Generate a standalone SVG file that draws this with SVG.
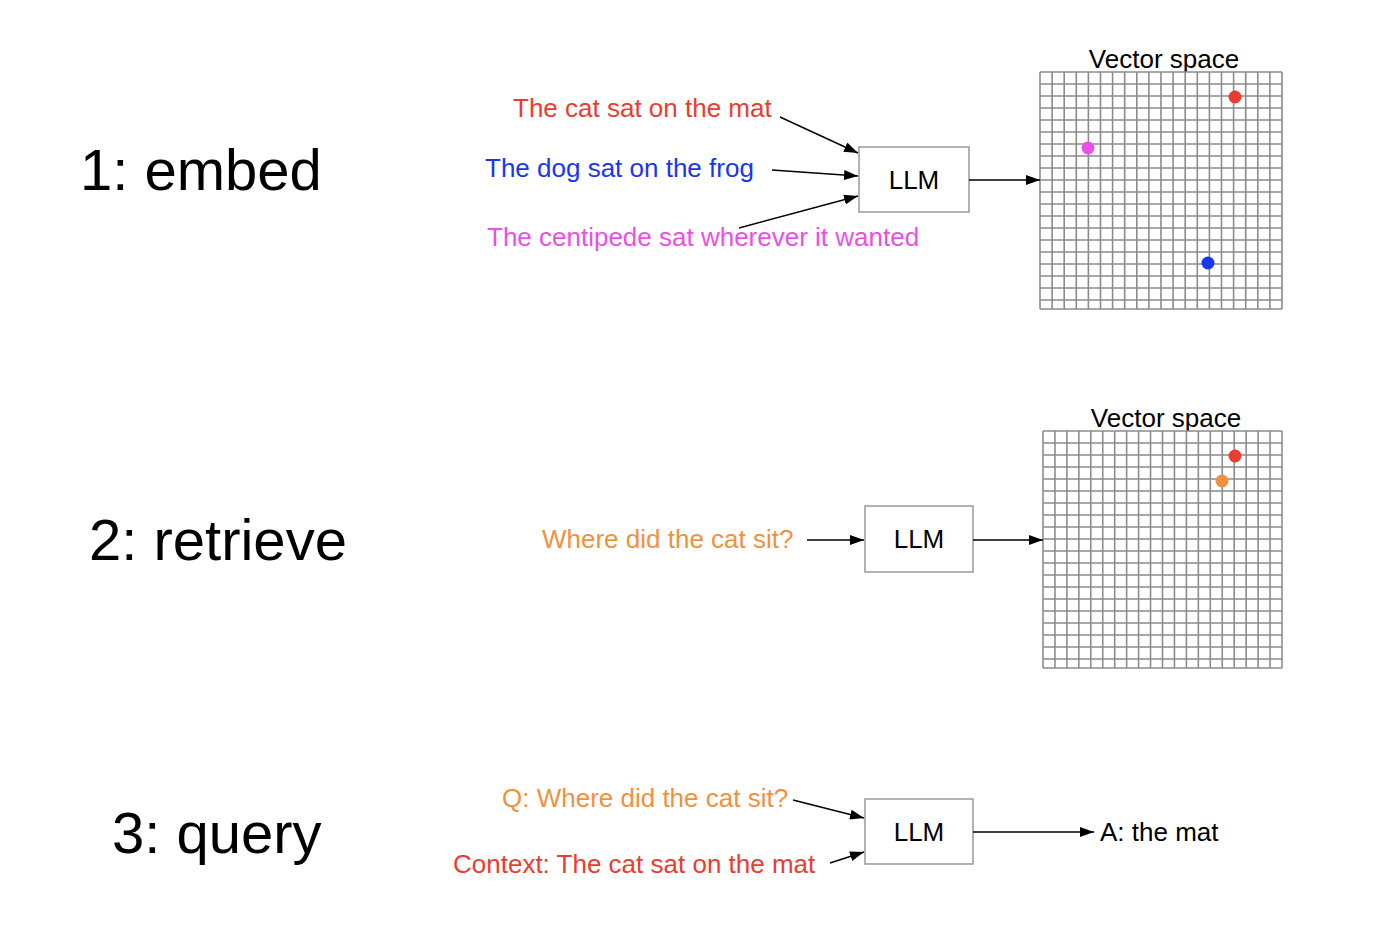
<svg xmlns="http://www.w3.org/2000/svg" xmlns:xlink="http://www.w3.org/1999/xlink" width="1388" height="934" viewBox="0 0 1388 934">
<style>
text{font-family:"Liberation Sans",Arial,Helvetica,sans-serif;}
.big{font-size:58px;fill:#000;}
.lbl{font-size:26px;}
.box{fill:#fff;stroke:#999;stroke-width:1.5;}
.conn{stroke:#000;stroke-width:1.5;fill:none;marker-end:url(#ah);}
.grid{stroke:#8c8c8c;stroke-width:1.6;fill:none;}
.red{fill:#ea3d2f;}
.blue{fill:#1b35f5;}
.mag{fill:#ea4fe6;}
.ora{fill:#f0913d;}
</style>
<defs>
<marker id="ah" markerUnits="userSpaceOnUse" markerWidth="14" markerHeight="10" refX="14" refY="5" orient="auto">
<path d="M0 0L14 5L0 10z" fill="#000"/>
</marker>
<g id="grid">
<rect x="0" y="0" width="242" height="237" fill="#fff"/>
<path class="grid" d="M0 0V237M12.1 0V237M24.2 0V237M36.3 0V237M48.4 0V237M60.5 0V237M72.6 0V237M84.7 0V237M96.8 0V237M108.9 0V237M121 0V237M133.1 0V237M145.2 0V237M157.3 0V237M169.4 0V237M181.5 0V237M193.6 0V237M205.7 0V237M217.8 0V237M229.9 0V237M242 0V237M0 0H242M0 12H242M0 24H242M0 36H242M0 48H242M0 60H242M0 72H242M0 84H242M0 96H242M0 108H242M0 120H242M0 132H242M0 144H242M0 156H242M0 168H242M0 180H242M0 192H242M0 204H242M0 216H242M0 228H242M0 237H242"/>
</g>
</defs>
<rect width="1388" height="934" fill="#fff"/>

<g id="title1"><text class="big" x="80" y="190">1: embed</text></g>
<g id="title2"><text class="big" x="89" y="560">2: retrieve</text></g>
<g id="title3"><text class="big" x="112" y="853">3: query</text></g>

<g id="s1-cat"><text class="lbl red" x="513" y="117">The cat sat on the mat</text></g>
<g id="s1-dog"><text class="lbl blue" x="485" y="177">The dog sat on the frog</text></g>
<g id="s1-centipede"><text class="lbl mag" x="487" y="246">The centipede sat wherever it wanted</text></g>
<g id="s1-llm"><rect class="box" x="859" y="147" width="110" height="65"/><text class="lbl" x="914" y="189" text-anchor="middle">LLM</text></g>
<g id="s1-vs">
<text class="lbl" x="1164" y="68" text-anchor="middle">Vector space</text>
<use xlink:href="#grid" transform="translate(1040,72)"/>
<circle class="red" cx="1235" cy="97" r="6.5"/>
<circle class="mag" cx="1088" cy="148" r="6.5"/>
<circle class="blue" cx="1208" cy="263" r="6.5"/>
</g>

<g id="s2-q"><text class="lbl ora" x="542" y="548">Where did the cat sit?</text></g>
<g id="s2-llm"><rect class="box" x="865" y="506" width="108" height="66"/><text class="lbl" x="919" y="548" text-anchor="middle">LLM</text></g>
<g id="s2-vs">
<text class="lbl" x="1166" y="427" text-anchor="middle">Vector space</text>
<use xlink:href="#grid" transform="translate(1043,431) scale(0.9876,1)"/>
<circle class="red" cx="1235" cy="456" r="6.5"/>
<circle class="ora" cx="1222" cy="481" r="6.5"/>
</g>

<g id="s3-q"><text class="lbl ora" x="502" y="807">Q: Where did the cat sit?</text></g>
<g id="s3-ctx"><text class="lbl red" x="453" y="873">Context: The cat sat on the mat</text></g>
<g id="s3-llm"><rect class="box" x="865" y="799" width="108" height="65"/><text class="lbl" x="919" y="841" text-anchor="middle">LLM</text></g>
<g id="s3-ans"><text class="lbl" x="1100" y="841" fill="#000">A: the mat</text></g>

<g id="connectors">
<line class="conn" x1="780" y1="117" x2="858" y2="153"/>
<line class="conn" x1="772" y1="170" x2="858" y2="176"/>
<line class="conn" x1="739" y1="228" x2="858" y2="196"/>
<line class="conn" x1="969" y1="180" x2="1040" y2="180"/>
<line class="conn" x1="807" y1="540" x2="864" y2="540"/>
<line class="conn" x1="973" y1="540" x2="1043" y2="540"/>
<line class="conn" x1="793" y1="800" x2="864" y2="818"/>
<line class="conn" x1="830" y1="863" x2="864" y2="852"/>
<line class="conn" x1="973" y1="832" x2="1094" y2="832"/>
</g>
</svg>
